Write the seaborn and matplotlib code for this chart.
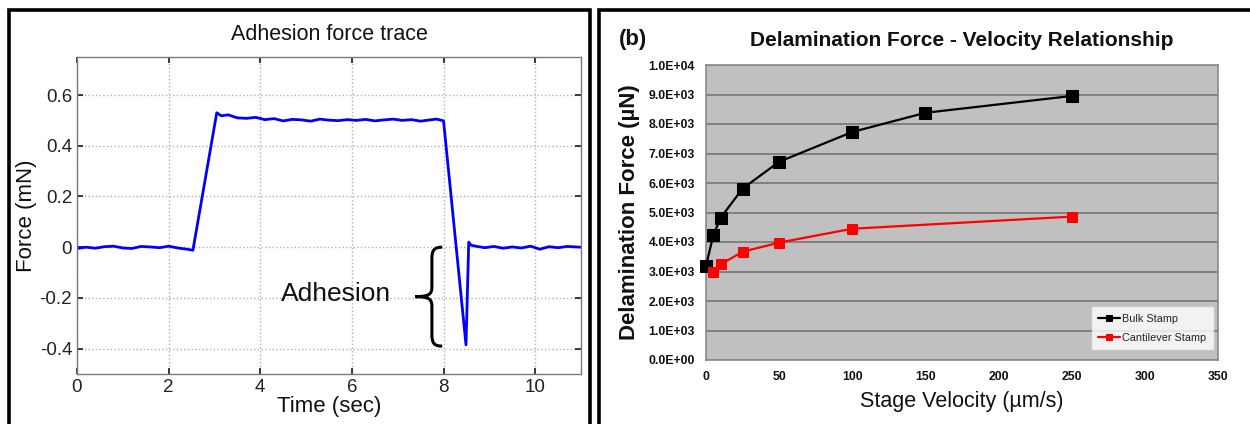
import numpy as np
import pandas as pd
import matplotlib
matplotlib.use("Agg")
import matplotlib.pyplot as plt
from matplotlib.patches import Rectangle, PathPatch
from matplotlib.path import Path
import seaborn as sns

# ---------------- data ----------------
# Panel (a): adhesion force trace
trace_time = [0.0, 0.2, 0.4, 0.6, 0.8, 1.0, 1.2, 1.4, 1.6, 1.8, 2.0, 2.2, 2.4, 2.53,
              3.05, 3.15, 3.3, 3.5, 3.7, 3.9, 4.1, 4.3, 4.5, 4.7, 4.9, 5.1, 5.3, 5.5,
              5.7, 5.9, 6.1, 6.3, 6.5, 6.7, 6.9, 7.1, 7.3, 7.5, 7.7, 7.85, 8.0,
              8.49, 8.55, 8.6, 8.7, 8.9, 9.1, 9.3, 9.5, 9.7, 9.9, 10.1, 10.3, 10.5, 10.7, 10.9, 11.0]
trace_force = [-0.005, 0.0, -0.004, 0.002, 0.004, -0.003, -0.005, 0.003, 0.001, -0.002, 0.004, -0.003, -0.008, -0.012,
               0.53, 0.518, 0.522, 0.51, 0.508, 0.512, 0.503, 0.507, 0.498, 0.504, 0.502, 0.497, 0.505, 0.501,
               0.499, 0.503, 0.500, 0.504, 0.498, 0.502, 0.505, 0.500, 0.503, 0.497, 0.502, 0.505, 0.498,
               -0.385, 0.02, 0.008, 0.004, -0.002, 0.003, -0.004, 0.001, -0.003, 0.004, -0.008, 0.002, -0.002, 0.003, 0.001, 0.0]

# Panel (b): delamination force vs stage velocity
bulk_velocity = [0, 5, 10, 25, 50, 100, 150, 250]
bulk_force = [3190, 4230, 4820, 5810, 6720, 7730, 8380, 8950]
cant_velocity = [5, 10, 25, 50, 100, 250]
cant_force = [2980, 3240, 3670, 3980, 4450, 4860]

left_xticks = [0, 2, 4, 6, 8, 10]
left_yticks = [-0.4, -0.2, 0, 0.2, 0.4, 0.6]
right_xticks = [0, 50, 100, 150, 200, 250, 300, 350]
right_yticks = list(range(0, 10001, 1000))

# ---------------- figure ----------------
sns.set_theme(style="white")
plt.rcParams['font.family'] = ['Liberation Sans', 'DejaVu Sans']

W, H = 1250, 424
fig = plt.figure(figsize=(W / 100, H / 100), dpi=100)
fig.patch.set_facecolor("white")

def fx(px):
    return px / W

def fy(py):
    return 1 - py / H

# ----- left panel -----
ax1 = fig.add_axes([fx(77), fy(374), fx(581 - 77), (374 - 57) / H])
sns.lineplot(x=trace_time, y=trace_force, ax=ax1, color="#0000ff", linewidth=2.0,
             sort=False, estimator=None)
ax1.set_xlim(0, 11)
ax1.set_ylim(-0.5, 0.75)
ax1.set_xticks(left_xticks)
ax1.set_yticks(left_yticks)
ax1.set_yticklabels(["-0.4", "-0.2", "0", "0.2", "0.4", "0.6"])
ax1.grid(True, linestyle=":", color="#b0b0b0", linewidth=1.0)
ax1.tick_params(direction="in", length=4, labelsize=13.5, colors="#222222",
                top=True, right=True, bottom=True, left=True)
for s in ax1.spines.values():
    s.set_color("#7a7a7a")
    s.set_linewidth(1.0)
ax1.set_title("Adhesion force trace", fontsize=15.5, pad=12, color="#111111")
ax1.set_xlabel("Time (sec)", fontsize=16, labelpad=0, color="#111111")
ax1.set_ylabel("Force (mN)", fontsize=16, labelpad=2, color="#111111")

# adhesion annotation with curly brace
ax1.text(5.65, -0.185, "Adhesion", fontsize=19, ha="center", va="center", color="#111111")
brace_tip_x, brace_right_x = 7.38, 7.97
brace_top, brace_bottom = 0.0, -0.39
unit = np.array([
    [1.0, 1.0], [0.70, 1.0], [0.62, 0.97], [0.62, 0.88],
    [0.62, 0.60],
    [0.62, 0.53], [0.55, 0.50], [0.0, 0.50],
    [0.55, 0.50], [0.62, 0.47], [0.62, 0.40],
    [0.62, 0.12],
    [0.62, 0.03], [0.70, 0.0], [1.0, 0.0],
])
codes = [Path.MOVETO, Path.CURVE4, Path.CURVE4, Path.CURVE4, Path.LINETO,
         Path.CURVE4, Path.CURVE4, Path.CURVE4, Path.CURVE4, Path.CURVE4, Path.CURVE4,
         Path.LINETO, Path.CURVE4, Path.CURVE4, Path.CURVE4]
verts = np.column_stack([
    brace_tip_x + unit[:, 0] * (brace_right_x - brace_tip_x),
    brace_bottom + unit[:, 1] * (brace_top - brace_bottom),
])
ax1.add_patch(PathPatch(Path(verts, codes), facecolor="none", edgecolor="black",
                        linewidth=2.2, zorder=5))

# ----- right panel -----
ax2 = fig.add_axes([fx(706), fy(360), fx(1218 - 706), (360 - 65) / H])
ax2.set_facecolor("#c0c0c0")
sns.lineplot(x=bulk_velocity, y=bulk_force, ax=ax2, color="black", linewidth=1.6,
             marker="s", markersize=8, markeredgecolor="black", label="Bulk Stamp",
             sort=False, estimator=None, zorder=4)
sns.lineplot(x=cant_velocity, y=cant_force, ax=ax2, color="#ff0000", linewidth=1.6,
             marker="s", markersize=7, markeredgecolor="#ff0000", label="Cantilever Stamp",
             sort=False, estimator=None, zorder=4)
for ln in ax2.lines:
    ln.set_clip_on(False)
ax2.set_xlim(0, 350)
ax2.set_ylim(0, 10000)
ax2.set_xticks(right_xticks)
ax2.set_yticks(right_yticks)
ax2.set_yticklabels([f"{v:.1E}" for v in right_yticks])
ax2.grid(True, axis="y", color="#808080", linewidth=1.4)
ax2.grid(False, axis="x")
ax2.set_axisbelow(True)
ax2.tick_params(length=0, labelsize=8.8, colors="#111111", pad=8)
for lab in ax2.get_xticklabels() + ax2.get_yticklabels():
    lab.set_fontweight("bold")
for s in ax2.spines.values():
    s.set_color("#8a8a8a")
    s.set_linewidth(1.2)
ax2.set_xlabel("Stage Velocity (\u00b5m/s)", fontsize=15.5, labelpad=6, color="#111111")
ax2.set_ylabel("Delamination Force (\u00b5N)", fontsize=16, fontweight="bold",
               labelpad=6, color="#111111")
ax2.set_title("Delamination Force - Velocity Relationship", fontsize=15, fontweight="bold",
              pad=14, color="#111111")
fig.text(fx(633), fy(40), "(b)", fontsize=16, fontweight="bold", ha="center", va="center",
         color="#111111")
leg = ax2.legend(loc="lower right", bbox_to_anchor=(0.99, 0.037), borderaxespad=0,
                 fontsize=7.8, frameon=True, fancybox=False, handlelength=2.0,
                 handletextpad=0.2, labelspacing=0.8, borderpad=0.6)
leg.get_frame().set_facecolor("white")
leg.get_frame().set_edgecolor("#eeeeee")
for h in leg.legend_handles:
    h.set_markersize(5)

# ----- panel frames -----
fig.add_artist(Rectangle((fx(8.5), fy(460)), fx(589.5 - 8.5), (460 - 9.5) / H,
                         transform=fig.transFigure, fill=False, edgecolor="black",
                         linewidth=2.6, clip_on=False))
fig.add_artist(Rectangle((fx(598.5), fy(460)), fx(1300 - 598.5), (460 - 10) / H,
                         transform=fig.transFigure, fill=False, edgecolor="black",
                         linewidth=2.6, clip_on=False))

fig.savefig("out.png", dpi=100, facecolor="white")
